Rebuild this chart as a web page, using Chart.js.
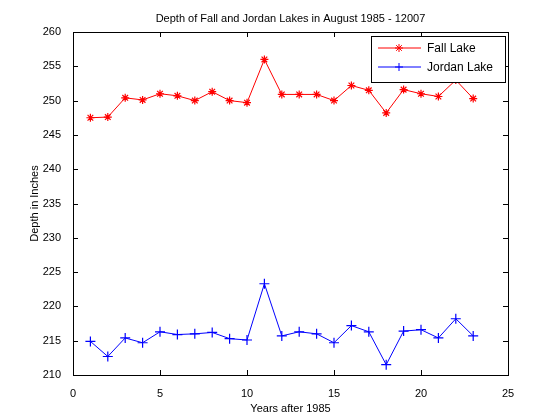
<!DOCTYPE html>
<html>
<head>
<script src="https://cdn.jsdelivr.net/npm/chart.js@4"></script>
<style>
  body { margin: 0; background: #fff; }
  #wrap { width: 560px; height: 420px; }
</style>
</head>
<body>
<div id="wrap"><canvas id="c"></canvas></div>
<script>
const years = [1,2,3,4,5,6,7,8,9,10,11,12,13,14,15,16,17,18,19,20,21,22,23];
const fallLake = [247.5,247.6,250.4,250.1,251.0,250.7,250.0,251.3,250.0,249.7,256.0,250.9,250.9,250.9,250.0,252.2,251.5,248.2,251.6,251.0,250.6,253.0,250.3];
const jordanLake = [214.9,212.7,215.4,214.7,216.3,215.9,216.0,216.2,215.3,215.1,223.3,215.7,216.3,216.0,214.7,217.2,216.3,211.5,216.4,216.6,215.4,218.2,215.7];
const xTicks = [0,5,10,15,20,25];
const yTicks = [210,215,220,225,230,235,240,245,250,255,260];

const font = 'Arial, "Liberation Sans", Helvetica, sans-serif';
Chart.defaults.font.family = font;
Chart.defaults.font.size = 11;
Chart.defaults.color = '#000';

const toPoints = ys => years.map((x, i) => ({ x: x, y: ys[i] }));

// matlab-like frame, inward ticks, title, y label and legend box
const matlabFrame = {
  id: 'matlabFrame',
  afterDraw(chart) {
    const { ctx, chartArea: a, scales } = chart;
    ctx.save();
    ctx.strokeStyle = '#000';
    ctx.lineWidth = 1;
    ctx.strokeRect(a.left + 0.5, a.top + 0.5, a.right - a.left, a.bottom - a.top);
    ctx.beginPath();
    xTicks.forEach(v => {
      const px = Math.round(scales.x.getPixelForValue(v)) + 0.5;
      ctx.moveTo(px, a.bottom); ctx.lineTo(px, a.bottom - 5);
      ctx.moveTo(px, a.top); ctx.lineTo(px, a.top + 5);
    });
    yTicks.forEach(v => {
      const py = Math.round(scales.y.getPixelForValue(v)) + 0.5;
      ctx.moveTo(a.left, py); ctx.lineTo(a.left + 5, py);
      ctx.moveTo(a.right, py); ctx.lineTo(a.right - 5, py);
    });
    ctx.stroke();

    ctx.fillStyle = '#000';
    ctx.font = '11px ' + font;
    ctx.textAlign = 'center';
    ctx.textBaseline = 'middle';
    ctx.fillText('Depth of Fall and Jordan Lakes in August 1985 - 12007', (a.left + a.right) / 2, 19);

    ctx.save();
    ctx.translate(35, (a.top + a.bottom) / 2);
    ctx.rotate(-Math.PI / 2);
    ctx.fillText('Depth in Inches', 0, 0);
    ctx.restore();

    // legend
    const lx = 371, ly = 36, lw = 134, lh = 46;
    ctx.fillStyle = '#fff';
    ctx.fillRect(lx, ly, lw, lh);
    ctx.strokeRect(lx + 0.5, ly + 0.5, lw, lh);
    chart.data.datasets.forEach((ds, i) => {
      const y = ly + 12 + i * 19;
      ctx.strokeStyle = ds.borderColor;
      ctx.beginPath(); ctx.moveTo(lx + 7, y); ctx.lineTo(lx + 50, y); ctx.stroke();
      Chart.helpers.drawPoint(ctx, { pointStyle: ds.pointStyle, radius: 4, borderWidth: 1 }, lx + 28, y);
      ctx.fillStyle = '#000';
      ctx.textAlign = 'left';
      ctx.font = '12px ' + font;
      ctx.fillText(ds.label, lx + 56, y + 1);
    });
    ctx.restore();
  }
};

new Chart(document.getElementById('c'), {
  type: 'line',
  data: {
    datasets: [
      { label: 'Fall Lake', data: toPoints(fallLake), borderColor: '#ff0000', pointBorderColor: '#ff0000',
        pointStyle: 'star', pointRadius: 4, borderWidth: 1, pointBorderWidth: 1.2, tension: 0 },
      { label: 'Jordan Lake', data: toPoints(jordanLake), borderColor: '#0000ff', pointBorderColor: '#0000ff',
        pointStyle: 'cross', pointRadius: 5, borderWidth: 1, pointBorderWidth: 1.2, tension: 0 }
    ]
  },
  options: {
    responsive: true,
    maintainAspectRatio: false,
    animation: false,
    layout: { padding: { top: 32, right: 52, left: 0, bottom: 0 } },
    plugins: { legend: { display: false }, tooltip: { enabled: false } },
    scales: {
      x: {
        type: 'linear', min: 0, max: 25,
        afterBuildTicks: s => { s.ticks = xTicks.map(v => ({ value: v })); },
        afterFit: s => { s.height = 45; },
        grid: { display: false },
        border: { display: false },
        ticks: { padding: 4 },
        title: { display: true, text: 'Years after 1985', padding: { top: 0 } }
      },
      y: {
        min: 210, max: 260,
        afterBuildTicks: s => { s.ticks = yTicks.map(v => ({ value: v })); },
        afterFit: s => { s.width = 73; },
        grid: { display: false },
        border: { display: false },
        ticks: { padding: 4 }
      }
    }
  },
  plugins: [matlabFrame]
});
</script>
</body>
</html>
